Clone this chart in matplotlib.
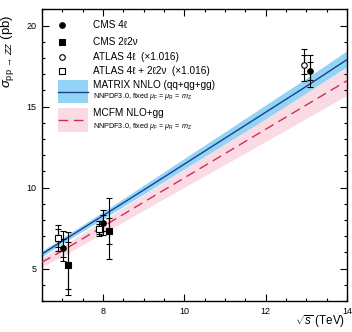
import numpy as np
import matplotlib
matplotlib.use('Agg')
from matplotlib import pyplot as plt
from matplotlib.patches import Rectangle
from matplotlib.ticker import MultipleLocator

plt.rcParams['font.family'] = ['Liberation Sans', 'DejaVu Sans']
plt.rcParams['mathtext.fontset'] = 'custom'
plt.rcParams['mathtext.rm'] = 'Liberation Sans'
plt.rcParams['mathtext.it'] = 'Liberation Sans:italic'
plt.rcParams['mathtext.sf'] = 'Liberation Sans'

# theory curves (sqrt(s) in TeV, sigma in pb)
sqrts = [6.5, 7, 8, 9, 10, 11, 12, 13, 14]
matrix_nnlo = [5.9, 6.7, 8.27, 9.85, 11.45, 13.05, 14.65, 16.25, 17.9]
matrix_up = [6.1, 6.9, 8.5, 10.15, 11.8, 13.45, 15.1, 16.75, 18.45]
matrix_dn = [5.75, 6.55, 8.07, 9.6, 11.15, 12.7, 14.25, 15.85, 17.45]
mcfm_nlo = [5.4, 6.1, 7.6, 9.1, 10.6, 12.1, 13.6, 15.1, 16.6]
mcfm_up = [5.7, 6.4, 7.98, 9.55, 11.13, 12.7, 14.28, 15.85, 17.4]
mcfm_dn = [5.1, 5.77, 7.18, 8.6, 10.02, 11.43, 12.85, 14.27, 15.7]

# measurements (x slightly offset for visibility)
cms4l_x = [7.02, 8.01, 13.08]
cms4l_y = [6.3, 7.8, 17.2]
cms4l_lo = [0.8, 0.75, 1.0]
cms4l_hi = [1.0, 0.8, 1.0]
cms4l_stat = [0.55, 0.5, 0.55]

cms2l2v_x = [7.15, 8.14]
cms2l2v_y = [5.2, 7.3]
cms2l2v_lo = [1.8, 1.7]
cms2l2v_hi = [2.05, 2.05]
cms2l2v_stat = [1.45, 0.8]

atlas4l_x = [12.93]
atlas4l_y = [17.58]
atlas4l_lo = [1.0]
atlas4l_hi = [1.0]
atlas4l_stat = [0.6]

atlascomb_x = [6.9, 7.9]
atlascomb_y = [6.88, 7.47]
atlascomb_lo = [0.78, 0.45]
atlascomb_hi = [0.82, 0.5]
atlascomb_stat = [0.55, 0.3]

blue_band = '#93d4f4'
blue_line = '#1b3f8f'
pink_band = '#fadbe4'
pink_line = '#d42a5a'

fig = plt.figure(figsize=(3.52, 3.32), dpi=100)
ax = fig.add_axes([0.119, 0.093, 0.867, 0.879])

ax.fill_between(sqrts, mcfm_dn, mcfm_up, color=pink_band, lw=0, zorder=1)
ax.fill_between(sqrts, matrix_dn, matrix_up, color=blue_band, lw=0, zorder=2)
ax.plot(sqrts, mcfm_nlo, color=pink_line, lw=1.0, dashes=(7, 4), zorder=3)
ax.plot(sqrts, matrix_nnlo, color=blue_line, lw=1.0, zorder=3)


def measurement(x, y, lo, hi, stat, marker, filled):
    ax.errorbar(x, y, yerr=[lo, hi], fmt='none', ecolor='black', elinewidth=0.8,
                capsize=2.5, capthick=0.8, zorder=4)
    ax.errorbar(x, y, yerr=stat, fmt='none', ecolor='black', elinewidth=0.8,
                capsize=2.5, capthick=0.8, zorder=4)
    ax.plot(x, y, ls='none', marker=marker, ms=4.0, mec='black', mew=0.8,
            mfc='black' if filled else 'white', zorder=5)


measurement(cms4l_x, cms4l_y, cms4l_lo, cms4l_hi, cms4l_stat, 'o', True)
measurement(cms2l2v_x, cms2l2v_y, cms2l2v_lo, cms2l2v_hi, cms2l2v_stat, 's', True)
measurement(atlas4l_x, atlas4l_y, atlas4l_lo, atlas4l_hi, atlas4l_stat, 'o', False)
measurement(atlascomb_x, atlascomb_y, atlascomb_lo, atlascomb_hi, atlascomb_stat, 's', False)

ax.set_xlim(6.5, 14)
ax.set_ylim(3, 21)
ax.xaxis.set_major_locator(MultipleLocator(2))
ax.xaxis.set_minor_locator(MultipleLocator(0.5))
ax.yaxis.set_major_locator(MultipleLocator(5))
ax.yaxis.set_minor_locator(MultipleLocator(1))
ax.tick_params(which='both', direction='in', top=True, right=True, labelsize=6.5, width=0.8)
ax.tick_params(which='major', length=5, pad=4)
ax.tick_params(which='minor', length=2.5)
for s in ax.spines.values():
    s.set_linewidth(1.0)

ax.set_xlabel(r'$\sqrt{s}$ (TeV)', fontsize=8.3, ha='right', va='top')
ax.xaxis.set_label_coords(0.995, -0.042)
ax.set_ylabel(r'$\sigma_{\mathrm{pp}\,\rightarrow\,ZZ}$ (pb)', fontsize=9.5, ha='right')
ax.yaxis.set_label_coords(-0.085, 0.98)

# legend, drawn by hand in axes coordinates
tr = ax.transAxes
mx, tx = 0.066, 0.167
rows = [(0.945, 'o', True, 'CMS 4ℓ'),
        (0.888, 's', True, 'CMS 2ℓ2ν'),
        (0.835, 'o', False, 'ATLAS 4ℓ  (×1.016)'),
        (0.787, 's', False, 'ATLAS 4ℓ + 2ℓ2ν  (×1.016)')]
for yy, m, filled, lab in rows:
    ax.plot([mx], [yy], transform=tr, marker=m, ms=4.0, mec='black', mew=0.8,
            mfc='black' if filled else 'white', clip_on=False)
    ax.text(tx, yy, lab, transform=tr, fontsize=7.2, va='center')

sub = r'NNPDF3.0, fixed $\mu_{\mathrm{F}}$ = $\mu_{\mathrm{R}}$ = $m_{\mathrm{Z}}$'
theory = [(0.757, 0.678, blue_band, blue_line, None, 'MATRIX NNLO (qq+qg+gg)'),
          (0.661, 0.578, pink_band, pink_line, (7, 4), 'MCFM NLO+gg')]
for top, bot, fc, lc, dsh, lab in theory:
    ax.add_patch(Rectangle((0.052, bot), 0.099, top - bot, transform=tr,
                           facecolor=fc, edgecolor='none'))
    mid = 0.5 * (top + bot)
    ln, = ax.plot([0.052, 0.151], [mid, mid], transform=tr, color=lc, lw=1.0)
    if dsh:
        ln.set_dashes(dsh)
    ax.text(tx, top - 0.017, lab, transform=tr, fontsize=7.2, va='center')
    ax.text(tx, bot + 0.022, sub, transform=tr, fontsize=5.2, va='center')

fig.savefig('out.png', dpi=100)
